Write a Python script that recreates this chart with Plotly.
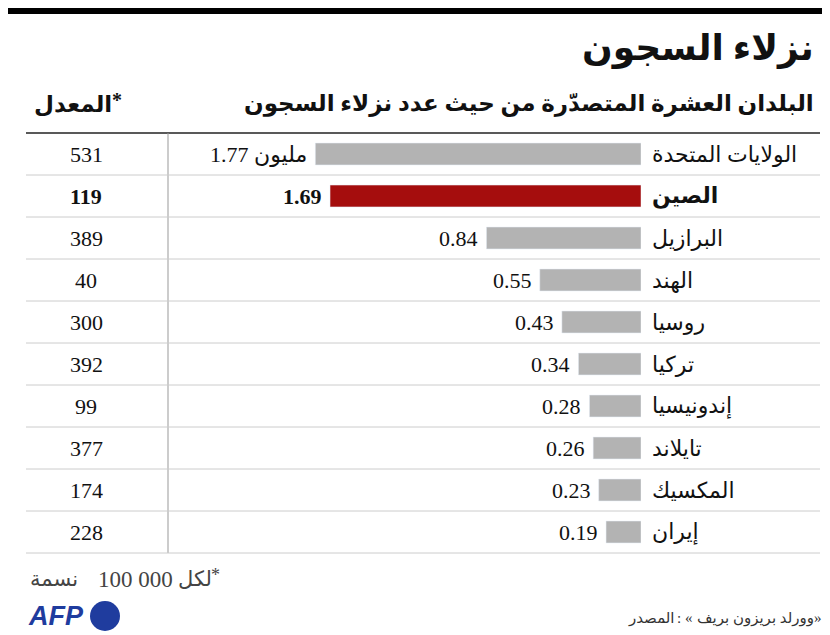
import plotly.graph_objects as go

countries = ["الولايات المتحدة", "الصين", "البرازيل", "الهند", "روسيا", "تركيا",
             "إندونيسيا", "تايلاند", "المكسيك", "إيران"]
inmates = [1.77, 1.69, 0.84, 0.55, 0.43, 0.34, 0.28, 0.26, 0.23, 0.19]
value_labels = ["1.77", "1.69", "0.84", "0.55", "0.43", "0.34", "0.28", "0.26", "0.23", "0.19"]
rates = [531, 119, 389, 40, 300, 392, 99, 377, 174, 228]

W, H = 830, 635
FONT = "Liberation Serif, DejaVu Sans"
def px(x): return x / W
def py(y): return 1 - y / H

top, bottom = 125, 545
colors = ["#a50d0d" if c == "الصين" else "#b3b3b3" for c in countries]

fig = go.Figure(go.Bar(
    x=inmates, y=countries, orientation="h", marker_color=colors, width=0.52,
    hoverinfo="skip"))

x0, x1 = 160, 633
fig.update_layout(
    width=W, height=H, margin=dict(l=0, r=0, t=0, b=0),
    paper_bgcolor="white", plot_bgcolor="white", showlegend=False,
    font=dict(family=FONT, size=22, color="#111"),
    xaxis=dict(domain=[px(x0), px(x1)], range=[(x1 - x0) / 184.0, 0],
               visible=False, fixedrange=True),
    yaxis=dict(domain=[py(bottom), py(top)], autorange="reversed",
               visible=False, fixedrange=True),
)

ann = []
for i, c in enumerate(countries):
    fw = "bold" if c == "الصين" else "normal"
    ann.append(dict(x=px(642), xref="paper", y=c, yref="y", text=c, showarrow=False,
                    xanchor="left", font=dict(size=22, weight=fw)))
    shift = -6
    if i == 0:
        ann.append(dict(x=inmates[i], xref="x", y=c, yref="y", text="مليون",
                        showarrow=False, xanchor="right", xshift=-6, font=dict(size=22)))
        shift = -64
    ann.append(dict(x=inmates[i], xref="x", y=c, yref="y", text=value_labels[i],
                    showarrow=False, xanchor="right", xshift=shift,
                    font=dict(size=22, weight=fw)))
    ann.append(dict(x=px(78), xref="paper", y=c, yref="y", text=str(rates[i]),
                    showarrow=False, xanchor="center", font=dict(size=22, weight=fw)))

grey = "#444"
src = "#333"
extra = [
    dict(x=px(808), y=py(40), text="<b>نزلاء السجون</b>", font=dict(size=36)),
    dict(x=px(808), y=py(96), text="<b>البلدان العشرة المتصدّرة من حيث عدد نزلاء السجون</b>",
         font=dict(size=23)),
    dict(x=px(116), y=py(92), text="<b>*</b>", font=dict(size=20)),
    dict(x=px(106), y=py(96), text="<b>المعدل</b>", font=dict(size=23)),
    dict(x=px(214), y=py(567), text="*", font=dict(size=18, color=grey)),
    dict(x=px(206), y=py(571), text="لكل", font=dict(size=21, color=grey)),
    dict(x=px(167), y=py(571), text="100 000", font=dict(size=23, color=grey)),
    dict(x=px(72), y=py(571), text="نسمة", font=dict(size=21, color=grey)),
    dict(x=px(816), y=py(610), text="»", font=dict(size=15, color=src)),
    dict(x=px(808), y=py(610), text="وورلد بريزون بريف", font=dict(size=15, color=src)),
    dict(x=px(687), y=py(610), text="«", font=dict(size=15, color=src)),
    dict(x=px(675), y=py(610), text=":", font=dict(size=15, color=src)),
    dict(x=px(669), y=py(610), text="المصدر", font=dict(size=15, color=src)),
    dict(x=px(18), y=py(608), text="<b><i>AFP</i></b>", xanchor="left",
         font=dict(size=27, color="#1f3c9e", family="Liberation Sans")),
]
for a in extra:
    a.setdefault("xref", "paper"); a.setdefault("yref", "paper")
    a.setdefault("showarrow", False); a.setdefault("xanchor", "right")
    a.setdefault("yanchor", "middle")
fig.update_layout(annotations=ann + extra)

shapes = [
    dict(type="rect", xref="paper", yref="paper", x0=0, x1=1, y0=py(6), y1=1,
         fillcolor="black", line_width=0),
    dict(type="line", xref="paper", yref="paper", x0=px(18), x1=px(812), y0=py(125), y1=py(125),
         line=dict(color="#222", width=1.5)),
    dict(type="line", xref="paper", yref="paper", x0=px(160), x1=px(160), y0=py(545), y1=py(125),
         line=dict(color="#999", width=1)),
    dict(type="circle", xref="paper", yref="paper", x0=px(82), x1=px(112), y0=py(623), y1=py(593),
         fillcolor="#1f3c9e", line_width=0),
]
step = (bottom - top) / len(countries)
for k in range(1, len(countries) + 1):
    yy = top + k * step
    shapes.append(dict(type="line", xref="paper", yref="paper", x0=px(18), x1=px(812),
                       y0=py(yy), y1=py(yy), line=dict(color="#ccc", width=1)))
fig.update_layout(shapes=shapes)

fig.write_html("out.html")
